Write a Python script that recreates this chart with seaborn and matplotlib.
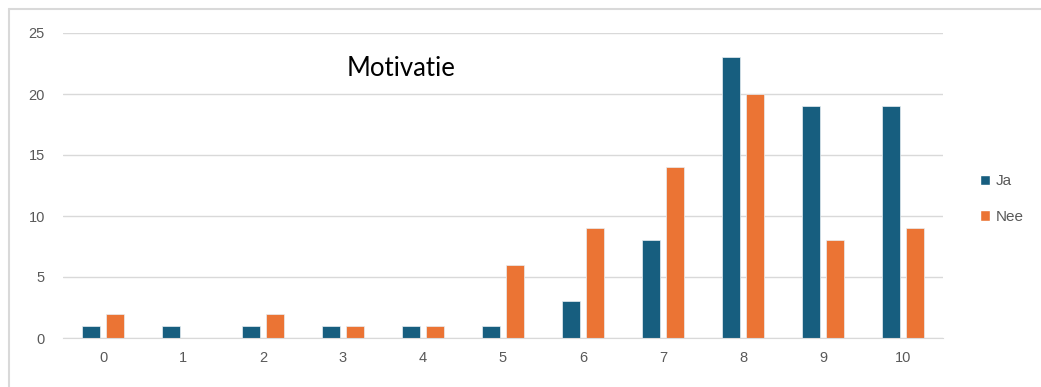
import pandas as pd
import matplotlib.pyplot as plt
import seaborn as sns
from matplotlib.patches import Rectangle
from matplotlib.lines import Line2D

# -------------------------
# Data
# -------------------------
categories = ["0", "1", "2", "3", "4", "5", "6", "7", "8", "9", "10"]
ja = [1, 1, 1, 1, 1, 1, 3, 8, 23, 19, 19]
nee = [2, 0, 2, 1, 1, 6, 9, 14, 20, 8, 9]
series = ["Ja", "Nee"]
colors = ["#175E7F", "#EB7434"]

df = pd.DataFrame({
    "score": categories * 2,
    "antwoord": ["Ja"] * len(ja) + ["Nee"] * len(nee),
    "aantal": ja + nee,
})

# -------------------------
# Plot
# -------------------------
sns.set_style("white")
plt.rcParams["font.family"] = ["Liberation Sans", "DejaVu Sans"]

fig = plt.figure(figsize=(10.41, 3.87), dpi=100)
ax = fig.add_axes([63 / 1041, 1 - 338 / 387, 880 / 1041, 305 / 387])

sns.barplot(
    data=df, x="score", y="aantal", hue="antwoord",
    order=categories, hue_order=series, palette=colors, saturation=1,
    width=0.58, gap=0.22, edgecolor="#E8EEF2", linewidth=0.5,
    ax=ax, legend=False,
)

ax.set_xlim(-0.5, 10.5)
ax.set_ylim(0, 25)
ax.set_yticks([0, 5, 10, 15, 20, 25])
ax.yaxis.grid(True, color="#D9D9D9", linewidth=1)
ax.set_axisbelow(True)
for side in ["top", "right", "left"]:
    ax.spines[side].set_visible(False)
ax.spines["bottom"].set_color("#D9D9D9")
ax.tick_params(axis="both", length=0, labelsize=10.5, labelcolor="#595959")
ax.tick_params(axis="x", pad=9)
ax.tick_params(axis="y", pad=13)
ax.set_xlabel("")
ax.set_ylabel("")

fig.text(401 / 1041, 1 - 68 / 387, "Motivatie", ha="center", va="center",
         fontsize=18.5, family=["Lato", "DejaVu Sans"], color="black")

# legend
handles = [Rectangle((0, 0), 1, 1, facecolor=c) for c in colors]
fig.legend(handles, series, loc="center left",
           bbox_to_anchor=(966 / 1041, 1 - 199 / 387), frameon=False,
           handlelength=0.7, handleheight=0.7, handletextpad=0.35,
           labelspacing=1.4, fontsize=11, labelcolor="#595959")

# outer border (left and top only visible)
x0 = 8.5 / 1041
y0 = 1 - 8.5 / 387
fig.add_artist(Line2D([x0, x0], [0, y0], transform=fig.transFigure,
                      color="#D9D9D9", linewidth=1.5))
fig.add_artist(Line2D([x0, 1], [y0, y0], transform=fig.transFigure,
                      color="#D9D9D9", linewidth=1.5))

plt.savefig("out.png", dpi=100)
